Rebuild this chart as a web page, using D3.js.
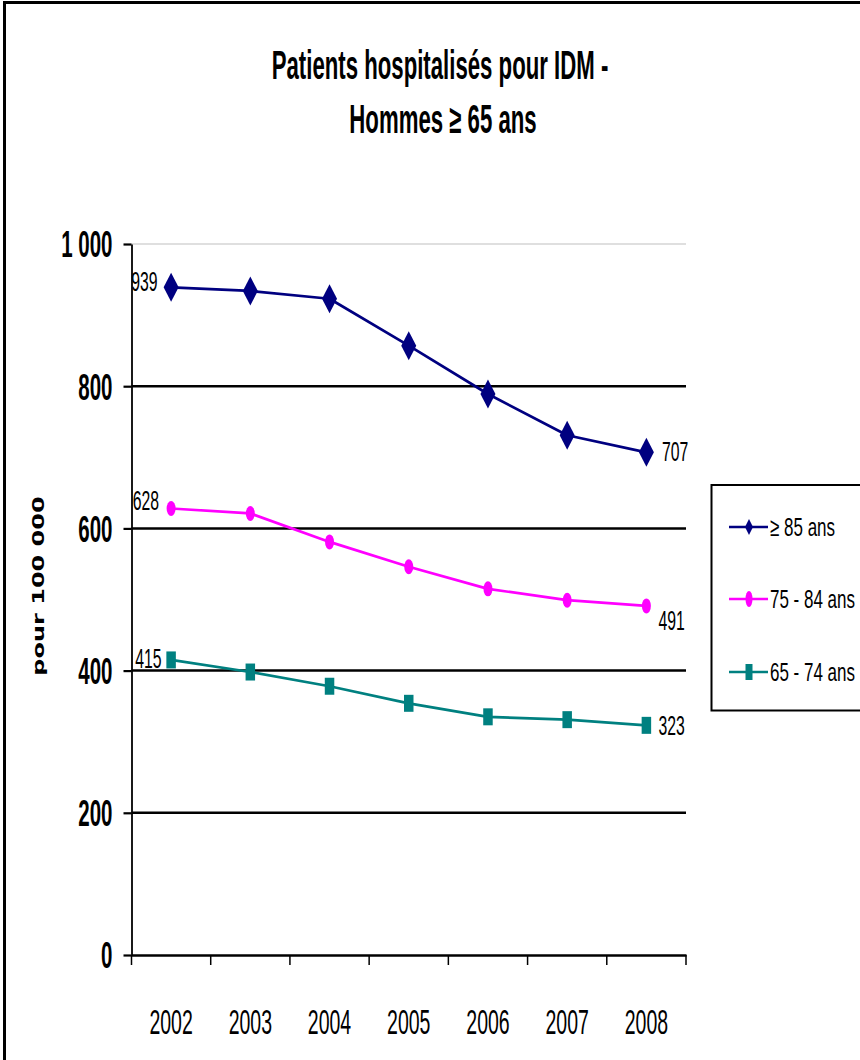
<!DOCTYPE html>
<html>
<head>
<meta charset="utf-8">
<script src="https://cdn.jsdelivr.net/npm/d3@7"></script>
<style>
  body { margin: 0; background: #fff; }
  svg { display: block; }
</style>
</head>
<body>
<svg id="chart" width="860" height="1060"></svg>
<script>
// ---- data ----
const years = ["2002", "2003", "2004", "2005", "2006", "2007", "2008"];
const men85plus = [939, 934, 923, 857, 789, 731, 707];
const men75to84 = [628, 621, 581, 546, 515, 499, 491];
const men65to74 = [415, 398, 378, 354, 335, 331, 323];
const seriesNames = ["≥ 85 ans", "75 - 84 ans", "65 - 74 ans"];
const yTicks = [0, 200, 400, 600, 800, 1000];
const titleLines = ["Patients hospitalisés pour IDM -", "Hommes ≥ 65 ans"];
const yAxisTitle = "pour 100 000";

// ---- styling ----
const FONT = "'Liberation Sans', Arial, sans-serif";
const series = [
  { name: seriesNames[0], values: men85plus, color: "#000080", marker: "diamond" },
  { name: seriesNames[1], values: men75to84, color: "#FF00FF", marker: "ellipse" },
  { name: seriesNames[2], values: men65to74, color: "#008080", marker: "rect" }
];

const svg = d3.select("#chart");

const x = d3.scaleBand().domain(years).range([131.5, 686]).paddingInner(0).paddingOuter(0);
const y = d3.scaleLinear().domain([0, 1000]).range([955, 244]);
const cx = d => x(d) + x.bandwidth() / 2;

// text drawn narrow and tall (stretched vertically)
function tallText(parent, tx, ty, str, o) {
  return parent.append("text")
    .attr("transform", `translate(${tx},${ty}) scale(1,${o.sy})`)
    .attr("text-anchor", o.anchor || "start")
    .style("font-family", o.family || FONT)
    .style("font-size", o.size + "px")
    .style("font-weight", o.weight || "normal")
    .attr("fill", "#000")
    .text(str);
}

function markerPath(kind, w, h) {
  if (kind === "diamond") return `M0,${-h / 2}L${w / 2},0L0,${h / 2}L${-w / 2},0Z`;
  if (kind === "rect") return `M${-w / 2},${-h / 2}h${w}v${h}h${-w}Z`;
  const rx = w / 2, ry = h / 2;
  return `M${-rx},0a${rx},${ry} 0 1,0 ${w},0a${rx},${ry} 0 1,0 ${-w},0Z`;
}
const markerSize = { diamond: [15, 29], ellipse: [9, 15], rect: [9.5, 17] };
const legendMarkerSize = { diamond: [8, 16], ellipse: [7, 16], rect: [7, 16] };

// outer frame
svg.append("rect")
  .attr("x", 4.5).attr("y", 2.5).attr("width", 900).attr("height", 1100)
  .attr("fill", "none").attr("stroke", "#000").attr("stroke-width", 3);

// title
tallText(svg, 440, 79, titleLines[0], { size: 22.2, sy: 1.8, weight: "bold", anchor: "middle" });
tallText(svg, 443, 133, titleLines[1], { size: 22.2, sy: 1.8, weight: "bold", anchor: "middle" });

// horizontal gridlines
const [x0, x1] = x.range();
svg.append("g").selectAll("line")
  .data(yTicks.filter(d => d > 0))
  .join("line")
  .attr("x1", x0).attr("x2", x1)
  .attr("y1", d => y(d)).attr("y2", d => y(d))
  .attr("stroke", d => d === 1000 ? "#d4d4d4" : "#000")
  .attr("stroke-width", d => d === 1000 ? 1.5 : 2.5);

// y axis
const fmt = d3.formatLocale({ decimal: ",", thousands: "\u00a0", grouping: [3], currency: ["", " €"] }).format(",");
const yAxis = svg.append("g")
  .attr("transform", `translate(${x0},0)`)
  .call(d3.axisLeft(y).tickValues(yTicks).tickFormat(fmt).tickSize(8).tickSizeOuter(0).tickPadding(11));
yAxis.select(".domain").attr("stroke", "#000").attr("stroke-width", 1.8);
yAxis.selectAll(".tick line").attr("stroke", "#000").attr("stroke-width", 2.2);
yAxis.selectAll(".tick text")
  .attr("x", null).attr("dy", null)
  .attr("transform", "translate(-19,12.8) scale(1,1.8)")
  .attr("fill", "#000")
  .style("font-family", FONT).style("font-size", "20.5px").style("font-weight", "bold");

// x axis
const xAxis = svg.append("g")
  .attr("transform", `translate(0,${y(0)})`)
  .call(d3.axisBottom(x).tickSize(0).tickPadding(0).tickSizeOuter(0));
xAxis.select(".domain").attr("stroke", "#000").attr("stroke-width", 2.5);
xAxis.selectAll(".tick text")
  .attr("y", null).attr("dy", null)
  .attr("transform", "translate(0,79) scale(1,1.8)")
  .attr("fill", "#000")
  .style("font-family", FONT).style("font-size", "19.5px");
xAxis.selectAll("line.boundary")
  .data(years.map(d => x(d)).concat([x1]))
  .join("line").attr("class", "boundary")
  .attr("x1", d => d).attr("x2", d => d)
  .attr("y1", 0).attr("y2", 10)
  .attr("stroke", "#000").attr("stroke-width", 1.5);

// y axis title
svg.append("text")
  .attr("transform", "translate(43.5,586) rotate(-90) scale(1.6,1)")
  .attr("text-anchor", "middle")
  .style("font-family", "'DejaVu Sans', Verdana, sans-serif")
  .style("font-size", "15px").style("font-weight", "bold")
  .attr("fill", "#000")
  .text(yAxisTitle);

// series lines and markers
const line = d3.line().x((d, i) => cx(years[i])).y(d => y(d));
series.forEach(s => {
  const g = svg.append("g");
  g.append("path").datum(s.values)
    .attr("d", line).attr("fill", "none")
    .attr("stroke", s.color).attr("stroke-width", 2.7).attr("stroke-linejoin", "round");
  const [w, h] = markerSize[s.marker];
  g.selectAll("path.m").data(s.values).join("path").attr("class", "m")
    .attr("transform", (d, i) => `translate(${cx(years[i])},${y(d)})`)
    .attr("d", markerPath(s.marker, w, h))
    .attr("fill", s.color);
});

// value labels at first and last year
const labelPlacement = [
  { first: [-13.5, 4, "end"], last: [15.5, 9, "start"] },
  { first: [-12, 1.5, "end"], last: [12, 24, "start"] },
  { first: [-9.5, 8, "end"], last: [12, 10, "start"] }
];
series.forEach((s, k) => {
  const n = s.values.length - 1;
  const a = labelPlacement[k].first, b = labelPlacement[k].last;
  tallText(svg, cx(years[0]) + a[0], y(s.values[0]) + a[1], String(s.values[0]),
    { size: 15.8, sy: 1.75, anchor: a[2] });
  tallText(svg, cx(years[n]) + b[0], y(s.values[n]) + b[1], String(s.values[n]),
    { size: 15.8, sy: 1.75, anchor: b[2] });
});

// legend
const legend = svg.append("g");
legend.append("rect")
  .attr("x", 711.5).attr("y", 485).attr("width", 200).attr("height", 225.5)
  .attr("fill", "#fff").attr("stroke", "#000").attr("stroke-width", 2);
const legendRowY = [527, 599, 672];
series.forEach((s, k) => {
  const ly = legendRowY[k];
  legend.append("line").attr("x1", 729).attr("x2", 768).attr("y1", ly).attr("y2", ly)
    .attr("stroke", s.color).attr("stroke-width", 2.5);
  const [w, h] = legendMarkerSize[s.marker];
  legend.append("path").attr("transform", `translate(749,${ly})`)
    .attr("d", markerPath(s.marker, w, h)).attr("fill", s.color);
  tallText(legend, 770, ly + 9, s.name, { size: 17, sy: 1.55 });
});
</script>
</body>
</html>
